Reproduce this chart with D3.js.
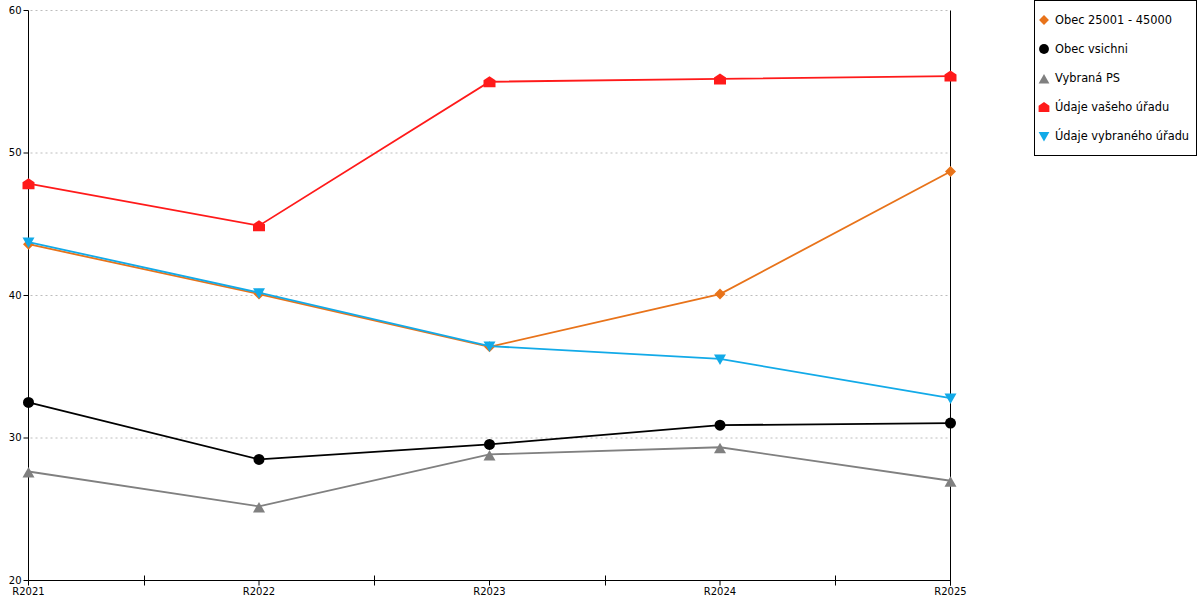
<!DOCTYPE html>
<html>
<head>
<meta charset="utf-8">
<script src="https://cdn.jsdelivr.net/npm/d3@7"></script>
<style>
  body { margin: 0; background: #fff; }
  svg { font-family: "DejaVu Sans", Verdana, sans-serif; }
</style>
</head>
<body>
<div id="chart"></div>
<script>
// data
var years = ["R2021", "R2022", "R2023", "R2024", "R2025"];
var obec25001 = [43.6, 40.1, 36.4, 40.1, 48.7];
var obecVsichni = [32.5, 28.5, 29.55, 30.9, 31.05];
var vybranaPS = [27.65, 25.2, 28.85, 29.35, 27.0];
var vaseUrad = [47.85, 44.9, 55.0, 55.2, 55.4];
var vybranyUrad = [43.75, 40.2, 36.45, 35.55, 32.8];
var seriesNames = ["Obec 25001 - 45000", "Obec vsichni", "Vybraná PS", "Údaje vašeho úřadu", "Údaje vybraného úřadu"];
var yTicks = [20, 30, 40, 50, 60];

var WIDTH = 1200, HEIGHT = 600;
var LEFT = 28.5, RIGHT = 950.5, TOP = 10.5, BOTTOM = 580.5;

var svg = d3.select("#chart").append("svg")
  .attr("width", WIDTH)
  .attr("height", HEIGHT);

var x = d3.scalePoint().domain(years).range([LEFT, RIGHT]);
var y = d3.scaleLinear().domain([20, 60]).range([BOTTOM, TOP]);

// marker shapes, drawn around 0,0
var shapes = {
  diamond: "M0,-5.5L5.5,0L0,5.5L-5.5,0Z",
  house: "M0,-5.5L6,-1.5L6,5.5L-6,5.5L-6,-1.5Z",
  up: "M0,-4.5L6,6L-6,6Z",
  down: "M-6,-4.5L6,-4.5L0,6Z"
};

var series = [
  {name: seriesNames[0], values: obec25001, color: "#E8731A", shape: "diamond"},
  {name: seriesNames[1], values: obecVsichni, color: "#000000", shape: "circle"},
  {name: seriesNames[2], values: vybranaPS, color: "#808080", shape: "up"},
  {name: seriesNames[3], values: vaseUrad, color: "#FF1A1A", shape: "house"},
  {name: seriesNames[4], values: vybranyUrad, color: "#12AAE8", shape: "down"}
];

// gridlines
svg.append("g")
  .selectAll("line")
  .data(yTicks.filter(function(d) { return d > 20; }))
  .join("line")
  .attr("x1", LEFT + 2).attr("x2", RIGHT)
  .attr("y1", function(d) { return y(d); })
  .attr("y2", function(d) { return y(d); })
  .attr("stroke", "#bdbdbd")
  .attr("stroke-dasharray", "2,3");

// axes
var yAxis = svg.append("g")
  .attr("transform", "translate(" + LEFT + ",0)")
  .call(d3.axisLeft(y).tickValues(yTicks).tickSize(5).tickPadding(2).offset(0));
yAxis.select(".domain").attr("stroke", "#000").attr("d", "M0," + TOP + "V" + BOTTOM);
yAxis.selectAll(".tick line").attr("stroke", "#000");
yAxis.selectAll("text").attr("font-size", 10).attr("fill", "#000").attr("font-family", "DejaVu Sans, Verdana, sans-serif");

var xAxis = svg.append("g")
  .attr("transform", "translate(0," + BOTTOM + ")")
  .call(d3.axisBottom(x).tickSize(5).tickPadding(2).offset(0));
xAxis.select(".domain").attr("stroke", "#000").attr("d", "M" + LEFT + ",0H" + RIGHT);
xAxis.selectAll(".tick line").attr("stroke", "#000");
xAxis.selectAll("text").attr("font-size", 10).attr("fill", "#000").attr("font-family", "DejaVu Sans, Verdana, sans-serif");

// minor ticks between categories
var step = x.step();
svg.append("g")
  .selectAll("line")
  .data(years.slice(0, -1))
  .join("line")
  .attr("x1", function(d) { return Math.round(x(d) + step / 2) + 0.5; })
  .attr("x2", function(d) { return Math.round(x(d) + step / 2) + 0.5; })
  .attr("y1", BOTTOM - 5).attr("y2", BOTTOM + 5)
  .attr("stroke", "#000");

// right edge line
svg.append("line")
  .attr("x1", RIGHT).attr("x2", RIGHT)
  .attr("y1", TOP).attr("y2", BOTTOM + 5)
  .attr("stroke", "#000");

function marker(sel, s) {
  if (s.shape == "circle") {
    sel.append("circle").attr("r", 5.5).attr("fill", s.color);
  } else {
    sel.append("path").attr("d", shapes[s.shape]).attr("fill", s.color);
  }
}

var line = d3.line()
  .x(function(d, i) { return x(years[i]); })
  .y(function(d) { return y(d); });

series.forEach(function(s) {
  var g = svg.append("g");
  g.append("path")
    .attr("d", line(s.values))
    .attr("fill", "none")
    .attr("stroke", s.color)
    .attr("stroke-width", 1.8);
  s.values.forEach(function(v, i) {
    var m = g.append("g").attr("transform", "translate(" + x(years[i]) + "," + y(v) + ")");
    marker(m, s);
  });
});

// legend
var legend = svg.append("g");
legend.append("rect")
  .attr("x", 1034.5).attr("y", 0.5)
  .attr("width", 162).attr("height", 155)
  .attr("fill", "#fff").attr("stroke", "#000");
series.forEach(function(s, i) {
  var cy = 20 + i * 29;
  var m = legend.append("g").attr("transform", "translate(1044," + cy + ") scale(0.9)");
  marker(m, s);
  legend.append("text")
    .attr("x", 1055).attr("y", cy)
    .attr("dy", "0.35em")
    .attr("font-size", 11.4)
    .attr("fill", "#000")
    .text(s.name);
});
</script>
</body>
</html>
